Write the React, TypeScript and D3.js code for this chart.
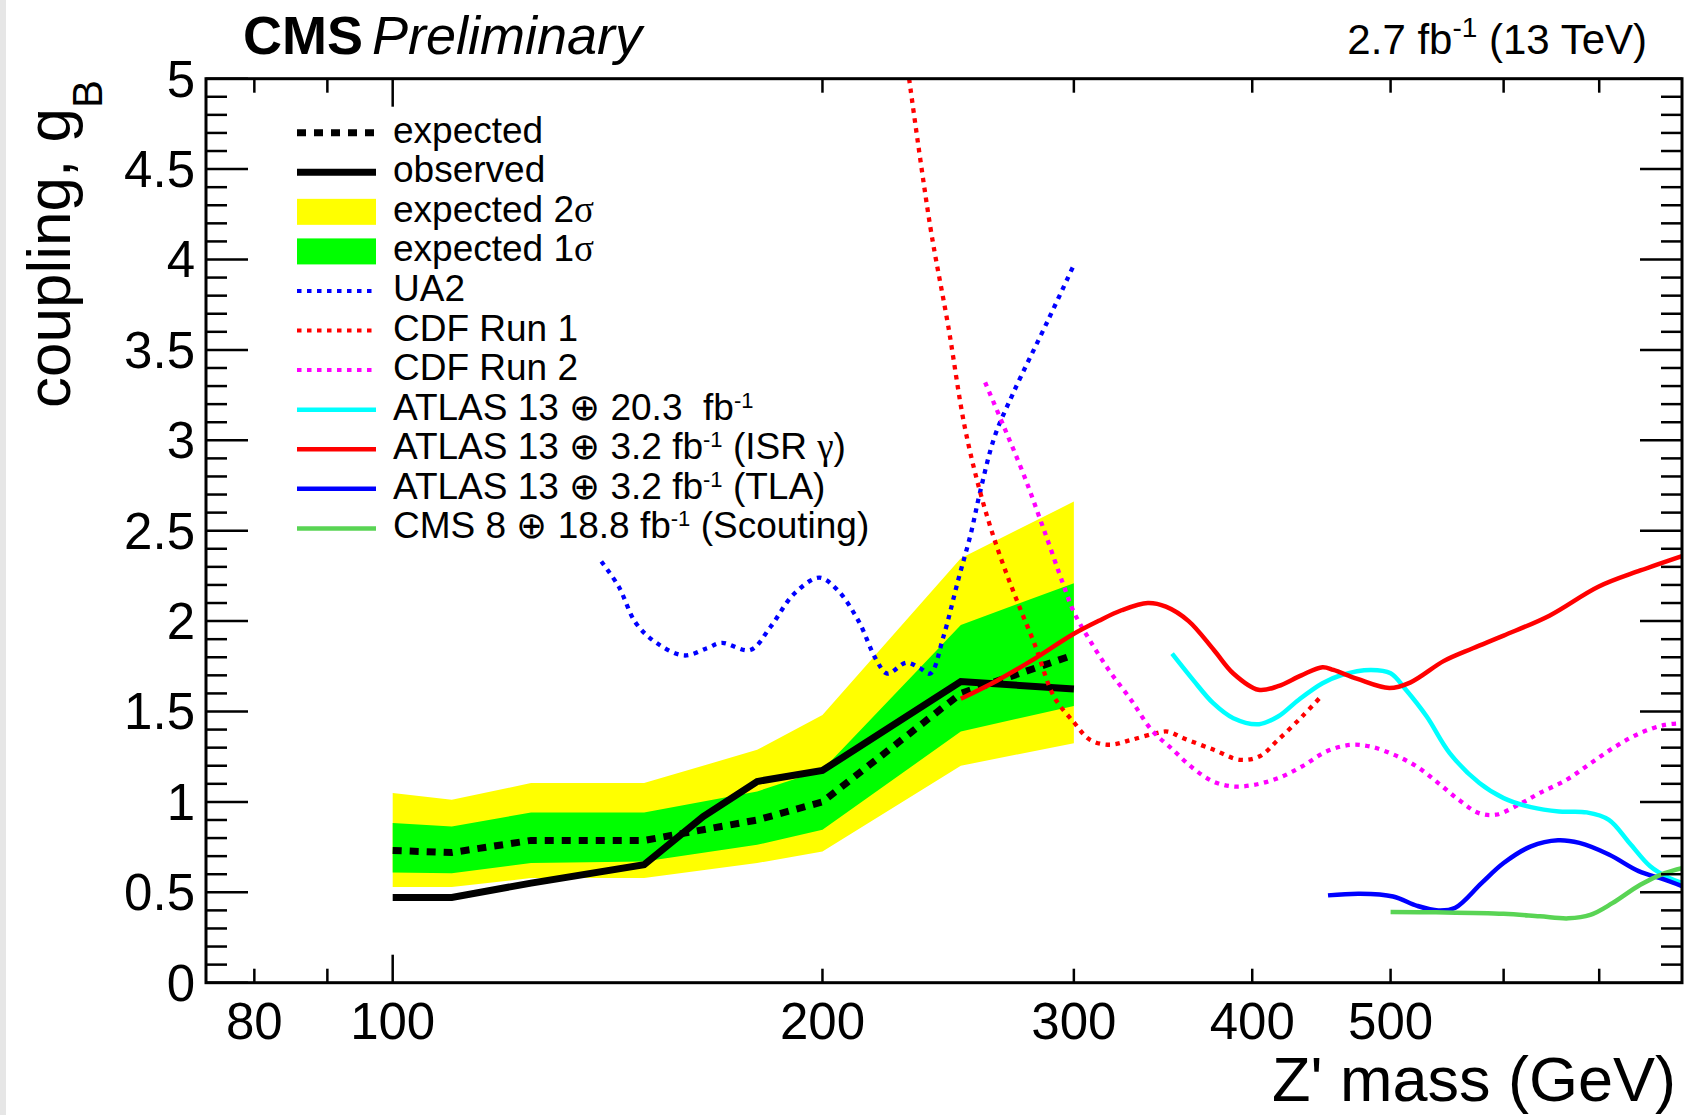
import React from 'react';
import * as d3 from 'd3';

// ---------- data ----------
const bandMass = [100, 110, 125, 150, 180, 200, 250, 300];
const expected = [0.731, 0.72, 0.787, 0.787, 0.9, 1.0, 1.6, 1.813];
const exp1Up = [0.883, 0.864, 0.942, 0.942, 1.058, 1.177, 1.979, 2.209];
const exp1Dn = [0.61, 0.606, 0.662, 0.67, 0.763, 0.846, 1.389, 1.531];
const exp2Up = [1.049, 1.012, 1.104, 1.104, 1.288, 1.481, 2.348, 2.661];
const exp2Dn = [0.529, 0.529, 0.579, 0.579, 0.662, 0.726, 1.2, 1.325];

const obsMass = [100, 110, 125, 150, 165, 180, 200, 250, 300];
const observed = [0.471, 0.471, 0.551, 0.652, 0.919, 1.113, 1.174, 1.666, 1.624];

const ua2Mass = [140, 144, 148, 153, 160, 166, 170, 178, 184, 191, 199, 205, 212, 218, 222, 229, 234, 238, 243, 249, 254, 258, 264, 272, 288, 300];
const ua2 = [2.33, 2.19, 1.99, 1.88, 1.81, 1.85, 1.88, 1.84, 1.97, 2.15, 2.24, 2.17, 2.0, 1.79, 1.71, 1.77, 1.74, 1.71, 1.91, 2.23, 2.48, 2.72, 3.02, 3.26, 3.67, 3.97];

const cdf1Mass = [230, 238, 245, 251.5, 258, 265, 273, 282, 290.5, 300, 308, 318, 329, 342, 349, 358, 376, 392, 404.5, 417, 433.5, 448];
const cdf1 = [5.0, 4.18, 3.63, 3.08, 2.71, 2.41, 2.135, 1.86, 1.583, 1.44, 1.343, 1.316, 1.343, 1.379, 1.389, 1.352, 1.288, 1.233, 1.251, 1.343, 1.472, 1.592];

const cdf2Mass = [260, 268, 277, 286, 295, 300, 308, 318, 329, 340, 352, 363.6, 375.6, 388, 401, 417, 433.5, 450.6, 468, 484, 503, 521.5, 540, 558, 576.6, 592.6, 617.7, 636, 664, 690.6, 718.5, 747.6, 778, 800];
const cdf2 = [3.32, 3.075, 2.8, 2.5, 2.2, 2.05, 1.89, 1.72, 1.564, 1.399, 1.288, 1.186, 1.113, 1.085, 1.094, 1.131, 1.196, 1.278, 1.315, 1.306, 1.26, 1.196, 1.104, 1.012, 0.938, 0.929, 0.994, 1.049, 1.122, 1.214, 1.306, 1.38, 1.426, 1.435];

const atlas20Mass = [351.5, 363.6, 375.6, 388, 404.5, 417, 431, 448, 462, 484, 500, 512.5, 530, 550, 577, 600, 627, 656, 686, 711, 735, 760, 783, 800];
const atlas20 = [1.82, 1.675, 1.546, 1.463, 1.43, 1.472, 1.564, 1.656, 1.702, 1.73, 1.712, 1.62, 1.472, 1.27, 1.104, 1.021, 0.971, 0.947, 0.942, 0.901, 0.773, 0.644, 0.58, 0.552];

const isrMass = [250, 265, 280, 300, 312, 324, 338, 348, 361, 376, 388, 404, 417, 433, 448, 456, 474, 499, 516, 545, 571, 600, 646, 699, 748, 800];
const isr = [1.57, 1.67, 1.78, 1.93, 2.0, 2.06, 2.1, 2.08, 2.0, 1.84, 1.71, 1.62, 1.64, 1.7, 1.745, 1.73, 1.68, 1.63, 1.66, 1.78, 1.85, 1.92, 2.03, 2.19, 2.28, 2.36];

const tlaMass = [452, 476, 502, 522, 540, 555, 579, 600, 627, 655, 678, 711, 746, 777, 800];
const tla = [0.483, 0.492, 0.477, 0.425, 0.4, 0.415, 0.551, 0.662, 0.754, 0.788, 0.773, 0.709, 0.617, 0.571, 0.534];

const scoutMass = [500, 538, 600, 636, 666, 690, 715, 748, 778, 800];
const scout = [0.391, 0.389, 0.381, 0.367, 0.356, 0.375, 0.44, 0.542, 0.606, 0.634];

const xTicks = [80, 90, 100, 200, 300, 400, 500, 600, 700];
const xMajorTicks = [100];
const xTickLabels = [80, 100, 200, 300, 400, 500];
const yTickLabels = ['0', '0.5', '1', '1.5', '2', '2.5', '3', '3.5', '4', '4.5', '5'];

// ---------- layout ----------
const W = 1690;
const H = 1115;
const L = 206, R = 1682, T = 78.7, B = 982.7;
const FONT = '"Liberation Sans", Arial, Helvetica, sans-serif';
const SERIF = '"Liberation Serif", "Times New Roman", serif';

const x = d3.scaleLog().domain([74, 800]).range([L, R]);
const y = d3.scaleLinear().domain([0, 5]).range([B, T]);

type P = [number, number];
const zip = (a: number[], b: number[]): P[] => a.map((v, i) => [v, b[i]]);

const lineLin = d3.line<P>().x(d => x(d[0])).y(d => y(d[1]));
const lineSmooth = d3.line<P>().x(d => x(d[0])).y(d => y(d[1])).curve(d3.curveCatmullRom.alpha(0.5));
const band = (lo: number[], hi: number[]) =>
  d3.area<number>().x((_, i) => x(bandMass[i])).y0((_, i) => y(lo[i])).y1((_, i) => y(hi[i]))(bandMass) || '';

const DOT = '4.5,5.5';

const curves = [
  { pts: zip(ua2Mass, ua2), color: '#0000ff', dash: DOT },
  { pts: zip(cdf1Mass, cdf1), color: '#ff0000', dash: DOT },
  { pts: zip(cdf2Mass, cdf2), color: '#ff00ff', dash: DOT },
  { pts: zip(atlas20Mass, atlas20), color: '#00ffff', dash: undefined },
  { pts: zip(tlaMass, tla), color: '#0000ff', dash: undefined },
  { pts: zip(scoutMass, scout), color: '#59d454', dash: undefined },
  { pts: zip(isrMass, isr), color: '#ff0000', dash: undefined },
];

const SUP = { dy: -12, fontSize: 22 };

const legendRows: { kind: string; color: string; label: React.ReactNode }[] = [
  { kind: 'dash', color: '#000', label: 'expected' },
  { kind: 'solidBlack', color: '#000', label: 'observed' },
  { kind: 'box', color: '#ffff00', label: <>expected 2<tspan fontFamily={SERIF}>σ</tspan></> },
  { kind: 'box', color: '#00ff00', label: <>expected 1<tspan fontFamily={SERIF}>σ</tspan></> },
  { kind: 'dot', color: '#0000ff', label: 'UA2' },
  { kind: 'dot', color: '#ff0000', label: 'CDF Run 1' },
  { kind: 'dot', color: '#ff00ff', label: 'CDF Run 2' },
  { kind: 'line', color: '#00ffff', label: <>ATLAS 13 ⊕ 20.3{'\u00a0\u00a0'}fb<tspan dy={SUP.dy} fontSize={SUP.fontSize}>-1</tspan></> },
  { kind: 'line', color: '#ff0000', label: <>ATLAS 13 ⊕ 3.2 fb<tspan dy={SUP.dy} fontSize={SUP.fontSize}>-1</tspan><tspan dy={-SUP.dy}> (ISR </tspan><tspan fontFamily={SERIF}>γ</tspan>)</> },
  { kind: 'line', color: '#0000ff', label: <>ATLAS 13 ⊕ 3.2 fb<tspan dy={SUP.dy} fontSize={SUP.fontSize}>-1</tspan><tspan dy={-SUP.dy}> (TLA)</tspan></> },
  { kind: 'line', color: '#59d454', label: <>CMS 8 ⊕ 18.8 fb<tspan dy={SUP.dy} fontSize={SUP.fontSize}>-1</tspan><tspan dy={-SUP.dy}> (Scouting)</tspan></> },
];

export default function App() {
  const yMinor = d3.range(0, 51).map(i => i / 10);
  const legY0 = 132.7;
  const legDY = 39.57;
  const lx0 = 297, lx1 = 376, ltx = 393;
  return (
    <svg width={W} height={H} style={{ position: 'absolute', left: 0, top: 0, background: '#fff' }} fontFamily={FONT}>
      <rect x={0} y={0} width={W} height={H} fill="#fff" />
      <rect x={0} y={0} width={6} height={H} fill="#e6e6e6" />
      <defs>
        <clipPath id="frame">
          <rect x={L} y={T} width={R - L} height={B - T} />
        </clipPath>
      </defs>

      <g clipPath="url(#frame)">
        <path d={band(exp2Dn, exp2Up)} fill="#ffff00" />
        <path d={band(exp1Dn, exp1Up)} fill="#00ff00" />
        <path d={lineLin(zip(bandMass, expected)) || ''} fill="none" stroke="#000" strokeWidth={7} strokeDasharray="9,8" />
        <path d={lineLin(zip(obsMass, observed)) || ''} fill="none" stroke="#000" strokeWidth={7} />
        {curves.map((c, i) => (
          <path key={i} d={lineSmooth(c.pts) || ''} fill="none" stroke={c.color} strokeWidth={c.dash ? 4.3 : 4.5} strokeDasharray={c.dash} />
        ))}
      </g>

      {/* frame */}
      <rect x={L} y={T} width={R - L} height={B - T} fill="none" stroke="#000" strokeWidth={3} />

      {/* y ticks left & right */}
      {yMinor.map((v, i) => {
        const major = i % 5 === 0;
        const len = major ? 42 : 21;
        return (
          <g key={'yt' + i} stroke="#000" strokeWidth={2.5}>
            <line x1={L} x2={L + len} y1={y(v)} y2={y(v)} />
            <line x1={R} x2={R - len} y1={y(v)} y2={y(v)} />
          </g>
        );
      })}
      {/* x ticks bottom & top */}
      {xTicks.map((v, i) => {
        const len = xMajorTicks.includes(v) ? 28 : 14;
        return (
          <g key={'xt' + i} stroke="#000" strokeWidth={2.5}>
            <line x1={x(v)} x2={x(v)} y1={B} y2={B - len} />
            <line x1={x(v)} x2={x(v)} y1={T} y2={T + len} />
          </g>
        );
      })}

      {/* y tick labels */}
      {yTickLabels.map((t, i) => (
        <text key={'yl' + i} x={195} y={y(i * 0.5)} dy="0.35em" textAnchor="end" fontSize={51}>{t}</text>
      ))}
      {/* x tick labels */}
      {xTickLabels.map((v, i) => (
        <text key={'xl' + i} x={x(v)} y={1039} textAnchor="middle" fontSize={51}>{v}</text>
      ))}

      {/* axis titles */}
      <text x={1676} y={1101} textAnchor="end" fontSize={63}>Z' mass (GeV)</text>
      <text transform="translate(70,80) rotate(-90)" textAnchor="end" fontSize={62}>
        coupling, g<tspan dy={32} fontSize={42}>B</tspan>
      </text>

      {/* header */}
      <text x={243} y={54} fontSize={54} fontWeight="bold">CMS</text>
      <text x={372} y={54} fontSize={54} fontStyle="italic">Preliminary</text>
      <text x={1647} y={54} textAnchor="end" fontSize={42}>
        2.7 fb<tspan dy={-17} fontSize={28}>-1</tspan><tspan dy={17}> (13 TeV)</tspan>
      </text>

      {/* legend */}
      {legendRows.map((r, i) => {
        const cy = legY0 + i * legDY;
        let sym: React.ReactNode = null;
        if (r.kind === 'box') sym = <rect x={lx0} y={cy - 13} width={lx1 - lx0} height={26} fill={r.color} />;
        else if (r.kind === 'dash') sym = <line x1={lx0} x2={lx1} y1={cy} y2={cy} stroke="#000" strokeWidth={7} strokeDasharray="9,8" />;
        else if (r.kind === 'solidBlack') sym = <line x1={lx0} x2={lx1} y1={cy} y2={cy} stroke="#000" strokeWidth={7} />;
        else if (r.kind === 'dot') sym = <line x1={lx0} x2={lx1} y1={cy} y2={cy} stroke={r.color} strokeWidth={4} strokeDasharray={DOT} />;
        else sym = <line x1={lx0} x2={lx1} y1={cy} y2={cy} stroke={r.color} strokeWidth={4.5} />;
        return (
          <g key={'lg' + i}>
            {sym}
            <text x={ltx} y={cy} dy="0.27em" fontSize={37}>{r.label}</text>
          </g>
        );
      })}
    </svg>
  );
}
